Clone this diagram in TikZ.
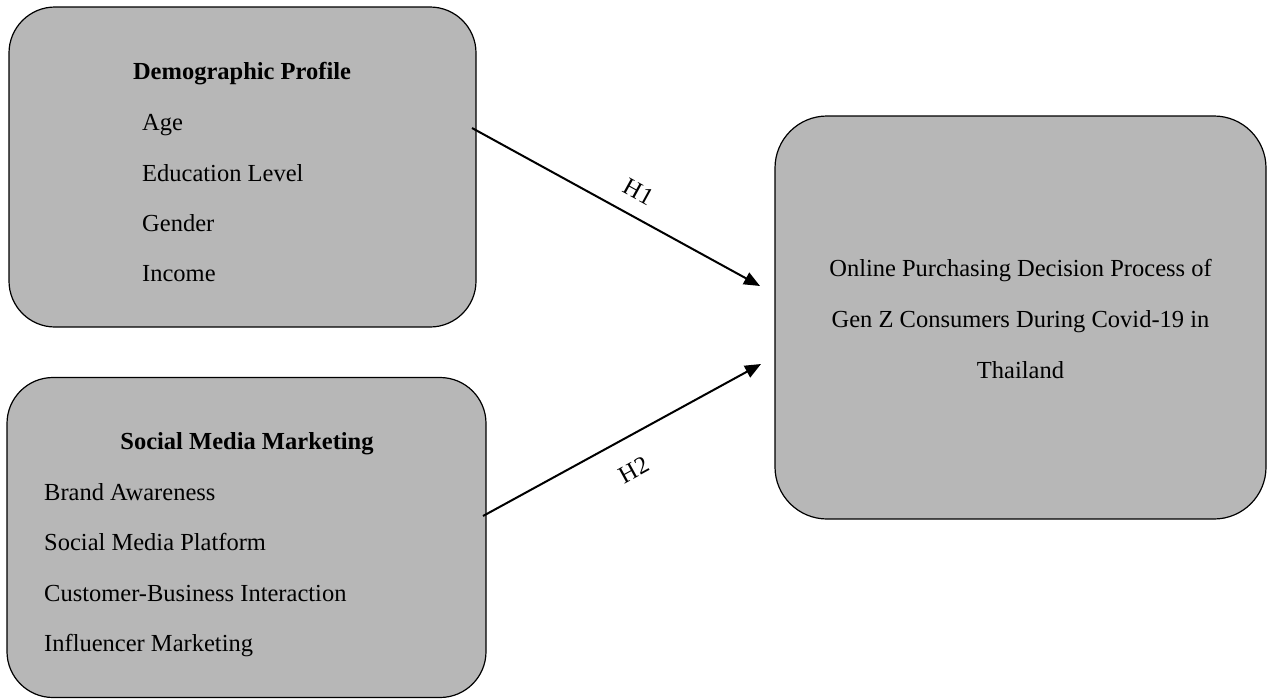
\documentclass[tikz,border=0pt]{standalone}
\usepackage{fontspec}
\setmainfont{Liberation Serif}
\usetikzlibrary{arrows.meta}
\definecolor{boxgray}{RGB}{183,183,183}
\tikzset{
  roundbox/.style={draw=black, fill=boxgray, line width=1.2pt, rounded corners=46pt, inner sep=0pt},
  title/.style={anchor=base, inner sep=0pt, font=\fontsize{24.5}{29}\selectfont\bfseries},
  item/.style={anchor=base west, inner sep=0pt, font=\fontsize{24.5}{29}\selectfont},
  ctext/.style={anchor=base, inner sep=0pt, font=\fontsize{24.5}{29}\selectfont},
  hyp/.style={line width=2pt, -{Triangle[length=16pt,width=13pt]}},
  hlabel/.style={inner sep=0pt, font=\fontsize{24.5}{29}\selectfont}
}
\begin{document}
\begin{tikzpicture}[x=1pt,y=-1pt]
\useasboundingbox (0,0) rectangle (1273,699);
% boxes
\node[roundbox, minimum width=467pt, minimum height=320pt] (dem) at (242.5,167) {};
\node[roundbox, minimum width=479pt, minimum height=320pt] (smm) at (246.5,537.5) {};
\node[roundbox, minimum width=491pt, minimum height=403pt, rounded corners=52pt] (opd) at (1020.5,317.5) {};
% texts of box 1
\node[title] (demt) at (242,79) {Demographic Profile};
\node[item] (age) at (142,130) {Age};
\node[item] (edu) at (142,181) {Education Level};
\node[item] (gen) at (142,231) {Gender};
\node[item] (inc) at (142,281) {Income};
% texts of box 2
\node[title] (smmt) at (247,449) {Social Media Marketing};
\node[item] (ba) at (44,500) {Brand Awareness};
\node[item] (smp) at (44,550) {Social Media Platform};
\node[item] (cbi) at (44,601) {Customer-Business Interaction};
\node[item] (inf) at (44,651) {Influencer Marketing};
% texts of box 3
\node[ctext] (o1) at (1020.5,276) {Online Purchasing Decision Process of};
\node[ctext] (o2) at (1020.5,327) {Gen Z Consumers During Covid-19 in};
\node[ctext] (o3) at (1020.5,378) {Thailand};
% connectors
\coordinate (h1s) at (472,128);
\coordinate (h1e) at (760,286);
\coordinate (h2s) at (483,516);
\coordinate (h2e) at (761,364);
\draw[hyp] (h1s) -- (h1e);
\draw[hyp] (h2s) -- (h2e);
\node[hlabel, rotate=-28.8] (lh1) at (639,192) {H1};
\node[hlabel, rotate=28.8] (lh2) at (634,470) {H2};
\end{tikzpicture}
\end{document}
